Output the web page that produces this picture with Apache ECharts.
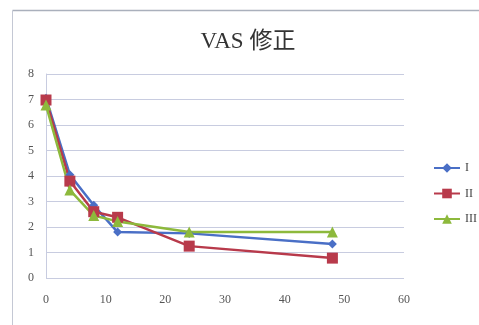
<!DOCTYPE html>
<html><head><meta charset="utf-8">
<script src="https://cdn.jsdelivr.net/npm/echarts@6/dist/echarts.min.js"></script>
<style>html,body{margin:0;padding:0;background:#fff}#c{width:479px;height:325px}</style>
</head><body><div id="c"></div>
<script>
var xValues = [0, 4, 8, 12, 24, 48];
var seriesNames = ['I', 'II', 'III'];
var valuesI = [7.05, 4.05, 2.85, 1.8, 1.75, 1.33];
var valuesII = [6.98, 3.8, 2.6, 2.38, 1.25, 0.78];
var valuesIII = [6.78, 3.45, 2.45, 2.22, 1.8, 1.8];
var titleText = 'VAS 修正';

var colors = ['#4A6FC6', '#B83A4B', '#8DB93C'];
var symbols = ['diamond', 'rect', 'triangle'];
var sizes = [9, 11, 11];
var allValues = [valuesI, valuesII, valuesIII];
var serif = '"Liberation Serif","DejaVu Serif","Noto Sans CJK JP",serif';

var chart = echarts.init(document.getElementById('c'));
chart.setOption({
  animation: false,
  backgroundColor: '#fff',
  graphic: [
    {type: 'line', shape: {x1: 12.5, y1: 10.5, x2: 479, y2: 10.5}, style: {stroke: '#aab0bc', lineWidth: 1.5}},
    {type: 'line', shape: {x1: 12.5, y1: 10.5, x2: 12.5, y2: 325}, style: {stroke: '#c4c8d4', lineWidth: 1}}
  ],
  title: {
    text: titleText, left: 243, top: 25, textAlign: 'center',
    textStyle: {fontFamily: serif, fontSize: 23, fontWeight: 'normal', color: '#333'}
  },
  legend: {
    orient: 'vertical', left: 428, top: 157, itemGap: 13.5,
    itemWidth: 26, itemHeight: 12,
    textStyle: {fontFamily: serif, fontSize: 12, color: '#444'},
    data: seriesNames
  },
  grid: {left: 46, right: 75, top: 74, bottom: 47},
  xAxis: {
    type: 'value', min: 0, max: 60, interval: 10,
    axisLine: {show: false}, axisTick: {show: false},
    splitLine: {show: false},
    axisLabel: {fontFamily: serif, fontSize: 12, color: '#555', margin: 16}
  },
  yAxis: {
    type: 'value', min: 0, max: 8, interval: 1,
    axisLine: {show: true, lineStyle: {color: '#c8cce0'}}, axisTick: {show: false},
    splitLine: {lineStyle: {color: '#c8cce0', width: 1}},
    axisLabel: {fontFamily: serif, fontSize: 12, color: '#555', margin: 12}
  },
  series: seriesNames.map(function (n, i) {
    return {
      name: n, type: 'line',
      data: xValues.map(function (x, j) { return [x, allValues[i][j]]; }),
      symbol: symbols[i], symbolSize: sizes[i],
      lineStyle: {color: colors[i], width: 2.5},
      itemStyle: {color: colors[i]}
    };
  })
});
</script></body></html>
